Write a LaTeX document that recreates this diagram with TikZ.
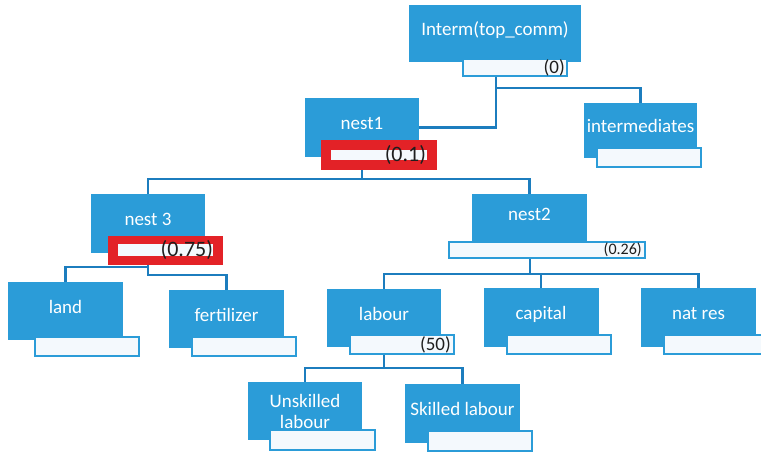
\documentclass[tikz,border=0pt]{standalone}
\usepackage{fontspec}
\setmainfont{Carlito}
\usepackage{tikz}
\usepackage{xcolor}
\definecolor{boxblue}{RGB}{43,156,216}
\definecolor{linkblue}{RGB}{28,125,190}
\definecolor{subfill}{RGB}{244,249,253}
\definecolor{nestred}{RGB}{227,34,39}
\definecolor{numgray}{RGB}{30,30,30}

\begin{document}
\begin{tikzpicture}[x=1pt,y=-1pt,
  blk/.style={fill=boxblue,text=white,inner sep=0pt,minimum width=115pt,minimum height=58pt,
    text height=14pt,text depth=10pt,font=\fontsize{19}{21}\selectfont},
  subbox/.style={draw=boxblue,line width=2pt,fill=subfill,inner sep=0pt,minimum width=104pt,minimum height=19pt},
  redbox/.style={fill=nestred,inner sep=0pt,minimum width=116pt,minimum height=30pt},
  redin/.style={fill=subfill,inner sep=0pt},
  val/.style={text=numgray,inner sep=0pt,anchor=east},
  link/.style={draw=linkblue,line width=2.2pt}]
  \useasboundingbox (0,0) rectangle (761,452);
  \fill[white] (0,0) rectangle (761,452);

  \node[blk,minimum width=172pt,minimum height=57pt] (interm) at (495,33.5) {Interm(top\_comm)};
  \node[subbox,minimum height=17pt] (intermS) at (515,67.5) {};
  \node[val,font=\fontsize{19}{21}\selectfont] (v0) at ([xshift=-3pt]intermS.east) {(0)};

  \node[blk,minimum width=113pt,minimum height=55pt] (inter) at (640.5,130.5) {intermediates};
  \node[subbox] (interS) at (649,157.5) {};

  \node[blk,minimum width=114pt,minimum height=59pt] (nest1) at (362,127.5) {nest1};
  \node[redbox] (nest1r) at (379,155) {};
  \node[redin,minimum width=96pt,minimum height=10pt] (nest1w) at (379,155) {};
  \node[val,font=\fontsize{22}{24}\selectfont] (v1) at ([xshift=-1pt]nest1w.east) {(0.1)};

  \node[blk,minimum width=114pt,minimum height=59pt] (nest3) at (148,223.5) {nest 3};
  \node[redbox,minimum width=115pt,minimum height=29pt] (nest3r) at (165.5,250.5) {};
  \node[redin,minimum width=95pt,minimum height=12pt] (nest3w) at (165.5,250) {};
  \node[val,font=\fontsize{22}{24}\selectfont] (v3) at (nest3w.east) {(0.75)};

  \node[blk,minimum height=48pt] (nest2) at (529.5,218) {nest2};
  \node[subbox,minimum width=196pt,minimum height=16pt] (nest2S) at (547,250) {};
  \node[val,font=\fontsize{16}{18}\selectfont] (v2) at ([xshift=-4pt]nest2S.east) {(0.26)};

  \node[blk] (land) at (65.5,311) {land};
  \node[subbox] (landS) at (87,346.5) {};
  \node[blk] (fert) at (226.5,319) {fertilizer};
  \node[subbox] (fertS) at (244,346.5) {};

  \node[blk,minimum width=114pt] (labour) at (384,318) {labour};
  \node[subbox] (labourS) at (402,344.5) {};
  \node[val,font=\fontsize{19}{21}\selectfont] (v50) at ([xshift=-4pt]labourS.east) {(50)};
  \node[blk,minimum height=59pt] (capital) at (541,317.5) {capital};
  \node[subbox] (capitalS) at (559,344.5) {};
  \node[blk,minimum height=59pt] (natres) at (698.5,317.5) {nat res};
  \node[subbox] (natresS) at (716,344.5) {};

  \node[blk,minimum width=114pt,align=center,text height={},text depth={}] (unsk) at (305,411) {Unskilled\\labour};
  \node[subbox,minimum width=105pt,minimum height=20pt] (unskS) at (322.5,440) {};
  \node[blk,minimum height=59pt] (skill) at (462.5,413.5) {Skilled labour};
  \node[subbox,minimum height=20pt] (skillS) at (480,441) {};

  \coordinate (j0) at (496,88);
  \coordinate (j1) at (362,179);
  \coordinate (j3a) at (148,267);
  \coordinate (j3b) at (148,275);
  \coordinate (j2) at (530,274);
  \coordinate (j4) at (384,368);

  \draw[link] (intermS.south -| j0) |- (nest1.east);
  \draw[link] (j0) -| (inter.north);
  \draw[link] (nest1r.south -| nest1) -- (j1);
  \draw[link] (nest3.north) |- (j1) -| (nest2.north);
  \draw[link] (nest3r.south -| nest3) -- (j3b) -| (fert.north);
  \draw[link] (j3a) -| (land.north);
  \draw[link] (nest2S.south -| j2) -- (j2);
  \draw[link] (labour.north) |- (j2) -| (natres.north);
  \draw[link] (j2 -| capital) -- (capital.north);
  \draw[link] (labourS.south -| labour) -- (j4);
  \draw[link] (unsk.north) |- (j4) -| (skill.north);
\end{tikzpicture}
\end{document}
